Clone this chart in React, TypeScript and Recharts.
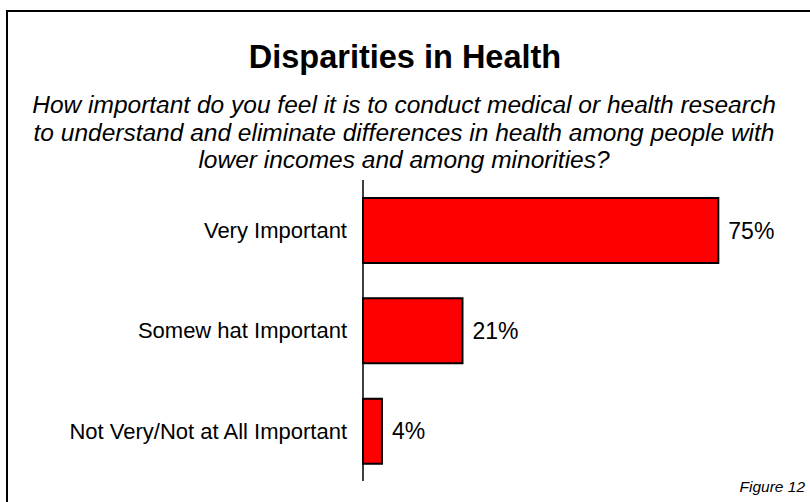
import React from 'react';
import { BarChart, Bar, XAxis, YAxis, LabelList } from 'recharts';

const categories = ['Very Important', 'Somew hat Important', 'Not Very/Not at All Important'];
const percents = [75, 21, 4];
const subtitleLines = [
    'How important do you feel it is to conduct medical or health research',
    'to understand and eliminate differences in health among people with',
    'lower incomes and among minorities?',
];

const font = "Arial, 'Liberation Sans', sans-serif";

export default function App() {
    const chartData = categories.map((name, i) => ({ name, value: percents[i] }));

    return (
        <div
            style={{
                position: 'absolute',
                left: 0,
                top: 0,
                width: 810,
                height: 502,
                overflow: 'hidden',
                background: '#fff',
                fontFamily: font,
            }}
        >
            <div
                style={{
                    position: 'absolute',
                    left: 6,
                    top: 10,
                    width: 840,
                    height: 540,
                    border: '2px solid #000',
                }}
            />
            <div
                style={{
                    position: 'absolute',
                    left: 0,
                    width: 810,
                    top: 39,
                    lineHeight: '36px',
                    fontSize: 32.5,
                    fontWeight: 'bold',
                    textAlign: 'center',
                }}
            >
                Disparities in Health
            </div>
            <div
                style={{
                    position: 'absolute',
                    left: 0,
                    width: 808,
                    top: 91,
                    lineHeight: '27.5px',
                    fontSize: 24.5,
                    fontStyle: 'italic',
                    textAlign: 'center',
                    whiteSpace: 'nowrap',
                }}
            >
                {subtitleLines.map((line) => (
                    <div key={line}>{line}</div>
                ))}
            </div>
            <div
                style={{
                    position: 'absolute',
                    right: 5,
                    top: 477,
                    lineHeight: '20px',
                    fontSize: 15.5,
                    fontStyle: 'italic',
                }}
            >
                Figure 12
            </div>
            <div style={{ position: 'absolute', left: 0, top: 0 }}>
                <BarChart
                    width={810}
                    height={502}
                    data={chartData}
                    layout="vertical"
                    margin={{ top: 180, right: 68, bottom: 21, left: 0 }}
                    barCategoryGap={0}
                >
                    <XAxis type="number" domain={[0, 80]} hide />
                    <YAxis
                        type="category"
                        dataKey="name"
                        width={363}
                        axisLine={{ stroke: '#000', strokeWidth: 1.5 }}
                        tickLine={false}
                        tickSize={8}
                        tickMargin={8}
                        tick={{ fill: '#000', fontSize: 22, fontFamily: font }}
                    />
                    <Bar
                        dataKey="value"
                        fill="#ff0000"
                        stroke="#000"
                        strokeWidth={2}
                        barSize={65}
                        isAnimationActive={false}
                    >
                        <LabelList
                            dataKey="value"
                            position="right"
                            offset={10}
                            formatter={(v: number) => `${v}%`}
                            style={{ fill: '#000', fontSize: 23, fontFamily: font }}
                        />
                    </Bar>
                </BarChart>
            </div>
        </div>
    );
}
